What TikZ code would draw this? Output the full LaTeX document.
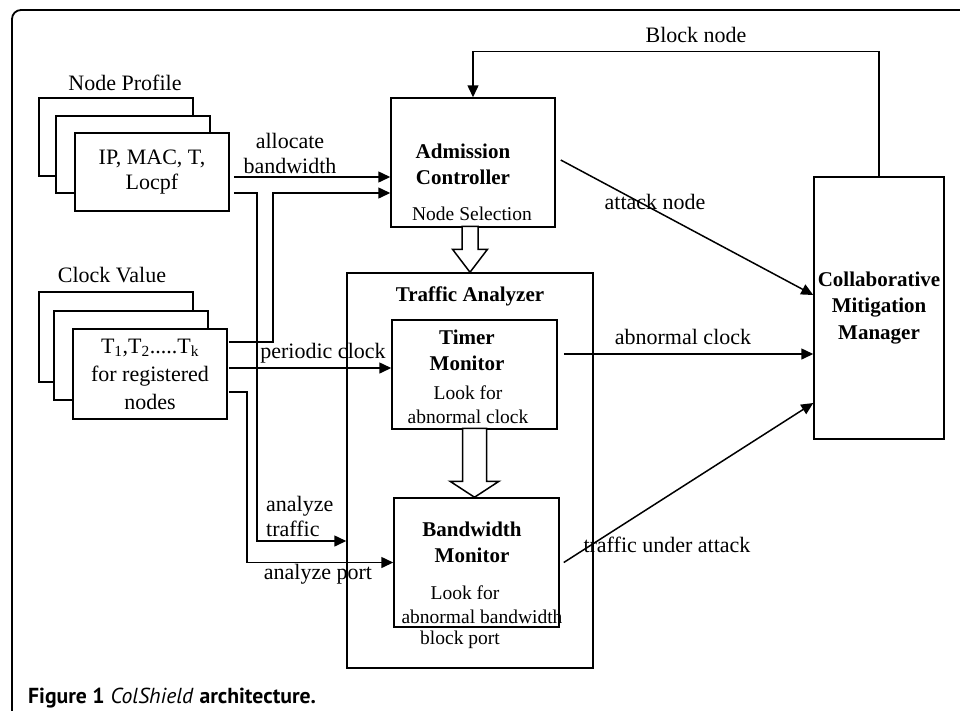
\documentclass[tikz,border=0pt]{standalone}
\usepackage{fontspec}
\setmainfont{Liberation Serif}
\newfontfamily\capfont{PT Sans}
\usetikzlibrary{arrows.meta,positioning,calc}

\begin{document}
\begin{tikzpicture}[
  x=1pt,y=-1pt,
  box/.style={draw,line width=1.5pt,fill=white,inner sep=0pt},
  lbl/.style={font=\fontsize{22}{25}\selectfont,inner sep=0pt,align=center},
  ttl/.style={font=\fontsize{21}{26}\selectfont\bfseries,inner sep=0pt,align=center},
  note/.style={font=\fontsize{19.5}{24}\selectfont,inner sep=0pt,align=center},
  arr/.style={-{Triangle[length=12pt,width=11pt]},line width=1.5pt},
  hollow/.style={draw,line width=1.5pt,fill=white,line join=miter}
]
\clip (0,0) rectangle (960,710);
% outer frame
\draw[line width=1.8pt,rounded corners=9pt] (12,760) -- (12,10) -- (1000,10);

% node profile stack
\node[lbl] (npt) at (125,83) {Node Profile};
\node[box,minimum width=154,minimum height=78] (np3) at (116,137) {};
\node[box,minimum width=154,minimum height=77] (np2) at (133,154.5) {};
\node[box,lbl,minimum width=154,minimum height=78] (np) at (152,172) {IP, MAC, T,\\Locpf};

% clock value stack
\node[lbl] (cvt) at (112,275) {Clock Value};
\node[box,minimum width=154,minimum height=90] (cv3) at (116,337) {};
\node[box,minimum width=154,minimum height=89] (cv2) at (131,355.5) {};
\node[box,lbl,font=\fontsize{22}{28}\selectfont,minimum width=154,minimum height=90] (cv) at (150,374)
  {T\textsubscript{1},T\textsubscript{2}.....T\textsubscript{k}\\for registered\\nodes};

% admission controller
\node[box,minimum width=164,minimum height=129] (ac) at (473,162.5) {};
\node[ttl] (act) at (463,164) {Admission\\Controller};
\node[note] (acn) at (472,214) {Node Selection};

% traffic analyzer
\node[box,minimum width=246,minimum height=395] (ta) at (470,470.5) {};
\node[ttl] (tat) at (470,296) {Traffic Analyzer};

\node[box,minimum width=165,minimum height=109] (tm) at (474.5,374.5) {};
\node[ttl] (tmt) at (467,350) {Timer\\Monitor};
\node[note] (tmn) at (468,405) {Look for\\abnormal clock};

\node[box,minimum width=165,minimum height=129] (bw) at (476.5,562.5) {};
\node[ttl] (bwt) at (472,542.5) {Bandwidth\\Monitor};
\node[note] (bwn) at (465,593) {Look for};
\node[note] (bwa) at (482,617) {abnormal bandwidth};
\node[note] (bwb) at (460,640) {block port};

% mitigation manager
\node[box,ttl,font=\fontsize{21}{26.5}\selectfont\bfseries,minimum width=130,minimum height=262] (cmm) at (879,308)
  {Collaborative\\Mitigation\\Manager};

% hollow arrows
\draw[hollow] (ta.north) -- ++(-17.5,-23) -- ++(9.5,0) -- ++(0,-23) -- ++(16,0) -- ++(0,23) -- ++(9.5,0) -- cycle;
\draw[hollow] (tm.south |- bw.north) -- ++(-24.5,-16) -- ++(12.5,0) -- ++(0,-53) -- ++(24,0) -- ++(0,53) -- ++(12.5,0) -- cycle;

% inputs
\draw[arr] ($(np.east)+(4,5)$) -- ($(ac.west)+(0,14.5)$);
\node[lbl] (alb) at (290,153.5) {allocate\\bandwidth};
\draw[arr] ($(np.east)+(4,21)$) -- ++(23,0) |- ($(ta.west)+(0,70.5)$);
\node[lbl,align=left,anchor=west] (atl) at (266,516.5) {analyze\\traffic};
\draw[arr] ($(cv.east)+(1,-32)$) -- ++(44,0) |- ($(ac.west)+(0,30.5)$);
\draw[arr] ($(cv.east)+(1,-6)$) -- ($(tm.west)+(0,-6.5)$);
\node[lbl] (pcl) at (323,353) {periodic clock};
\draw[arr] ($(cv.east)+(1,18)$) -- ++(18,0) |- (bw.west);
\node[lbl] (apl) at (318,574) {analyze port};

% outputs
\draw[arr] ($(ac.east)+(5,-2.5)$) -- ($(cmm.west)+(0,-13)$);
\node[lbl] (anl) at (655,202) {attack node};
\draw[arr] ($(tm.east)+(6,-20.5)$) -- ($(cmm.west)+(0,46)$);
\node[lbl] (acl) at (683,337) {abnormal clock};
\draw[arr] ($(bw.east)+(4,0)$) -- ($(cmm.west)+(0,95)$);
\node[lbl] (tul) at (667,545) {traffic under attack};
\draw[arr] (cmm.north) -- ++(0,-125) -| (ac.north);
\node[lbl] (bnl) at (696,35) {Block node};

\node[font=\capfont\fontsize{21.7}{24}\selectfont,anchor=base west,inner sep=0pt] (cap) at (28,703)
  {\textbf{Figure 1} \textit{ColShield} \textbf{architecture.}};
\end{tikzpicture}
\end{document}
